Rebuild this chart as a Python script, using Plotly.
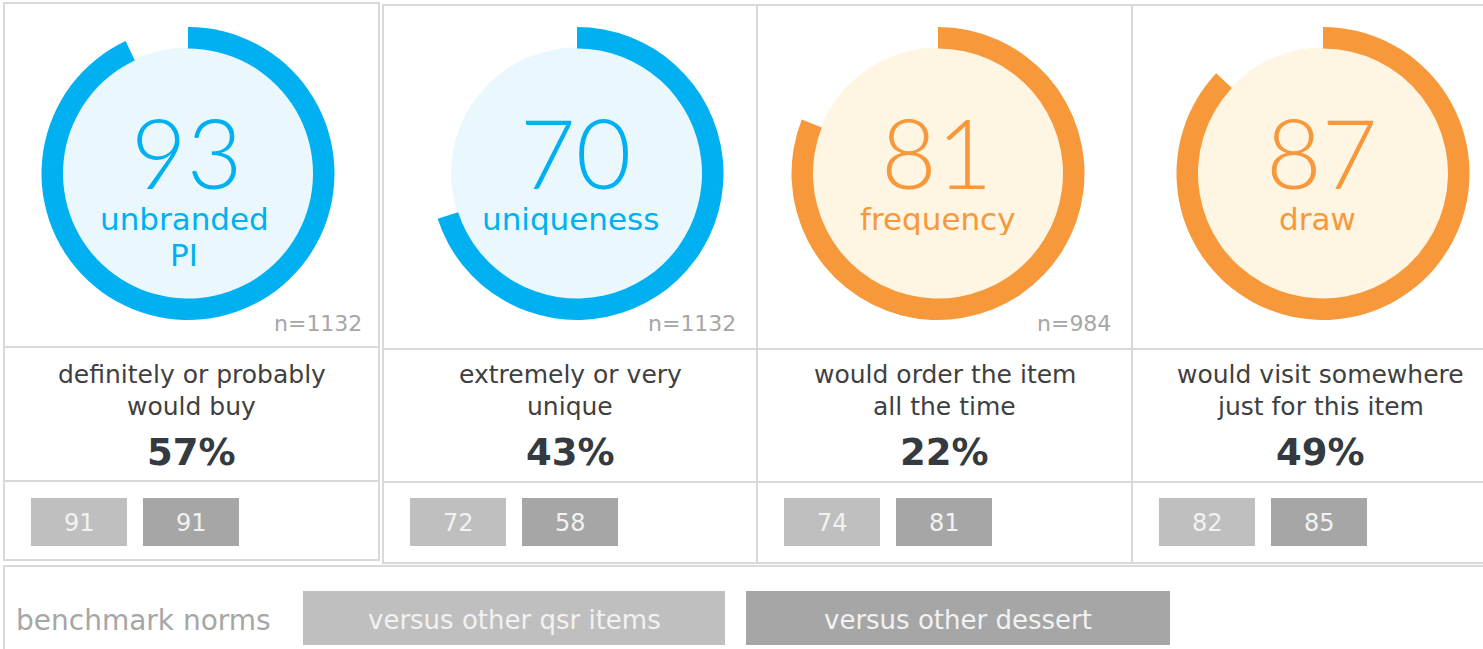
import plotly.graph_objects as go

# ---- data ----
scores = [93, 70, 81, 87]
score_labels = ["unbranded<br>PI", "uniqueness", "frequency", "draw"]
sample_sizes = ["n=1132", "n=1132", "n=984", "n=984"]
descriptions = ["definitely or probably<br>would buy", "extremely or very<br>unique",
                "would order the item<br>all the time", "would visit somewhere<br>just for this item"]
top_box = [57, 43, 22, 49]
norm_qsr = [91, 72, 74, 82]
norm_dessert = [91, 58, 81, 85]
legend_title = "benchmark norms"
legend_labels = ["versus other qsr items", "versus other dessert"]

# ---- style / layout ----
W, H = 1483, 649
FONT = "DejaVu Sans"
NUMFONT = "Lato"
ring_colors = ["#00B0F0", "#00B0F0", "#F7983A", "#F7983A"]
fill_colors = ["#EAF8FD", "#EAF8FD", "#FEF5E2", "#FEF5E2"]
panel_left = [4, 383, 757, 1132]
panel_center = [191.5, 570, 944.5, 1320]
donut_cx = [188, 577, 938, 1323]
label_cx = [184, 570, 937, 1317]
donut_cy = 173.5
R_OUT = 146.5
R_IN = 125
BORDER = "#D9D9D9"
QSR_COL = "#BFBFBF"
DES_COL = "#A6A6A6"

fig = go.Figure()
shapes = []
annotations = []


def rect(x0, y0, x1, y1, fill=None, width=2):
    d = dict(type="rect", xref="x", yref="y", x0=x0, y0=y0, x1=x1, y1=y1, layer="below")
    d["line"] = dict(color=BORDER, width=width) if width else dict(width=0)
    if fill:
        d["fillcolor"] = fill
    return d


def seg(x0, y0, x1, y1):
    return dict(type="line", xref="x", yref="y", x0=x0, x1=x1, y0=y0, y1=y1,
                line=dict(color=BORDER, width=2), layer="below")


def text(x, y, s, size, color, xanchor="center", yanchor="middle", family=FONT, weight=400, height=None):
    a = dict(x=x, y=y, text=s, showarrow=False, xanchor=xanchor, yanchor=yanchor,
             font=dict(family=family, size=size, color=color, weight=weight))
    if height:
        a["height"] = height
        a["valign"] = "middle"
    annotations.append(a)


# panel borders
shapes.append(rect(4, 3, 379, 560))
shapes.append(seg(4, 347, 379, 347))
shapes.append(seg(4, 481, 379, 481))
shapes.append(rect(383, 5, 1520, 563))
shapes.append(seg(757, 5, 757, 563))
shapes.append(seg(1132, 5, 1132, 563))
shapes.append(seg(383, 349, 1520, 349))
shapes.append(seg(383, 482, 1520, 482))
shapes.append(rect(4, 566, 1520, 680))

for i in range(4):
    cx = donut_cx[i]
    shapes.append(dict(type="circle", xref="x", yref="y", x0=cx - R_IN - 1, x1=cx + R_IN + 1,
                       y0=donut_cy - R_IN - 1, y1=donut_cy + R_IN + 1,
                       fillcolor=fill_colors[i], line=dict(width=0), layer="below"))
    fig.add_trace(go.Pie(
        values=[scores[i], 100 - scores[i]],
        marker=dict(colors=[ring_colors[i], "rgba(0,0,0,0)"], line=dict(width=0)),
        hole=R_IN / R_OUT, sort=False, direction="clockwise", rotation=0,
        textinfo="none", hoverinfo="skip", showlegend=False,
        domain=dict(x=[(cx - R_OUT) / W, (cx + R_OUT) / W],
                    y=[1 - (donut_cy + R_OUT) / H, 1 - (donut_cy - R_OUT) / H]),
    ))
    text(cx - 2, 151, str(scores[i]), 96, ring_colors[i], family=NUMFONT, weight=300, height=84)
    for k, line in enumerate(score_labels[i].split("<br>")):
        text(label_cx[i], 219 + 36 * k, line, 31, ring_colors[i], height=32)
    right = (panel_left[i + 1] if i < 3 else 1507) - 19
    text(right, 323, sample_sizes[i], 22, "#A6A6A6", xanchor="right")
    for k, line in enumerate(descriptions[i].split("<br>")):
        text(panel_center[i], 374 + 32 * k, line, 25, "#404040", height=30)
    text(panel_center[i], 452, "<b>%d%%</b>" % top_box[i], 37, "#343A40", weight=700)
    bx = panel_left[i] + 27
    for j, (vals, col) in enumerate([(norm_qsr, QSR_COL), (norm_dessert, DES_COL)]):
        x0 = bx + 112 * j
        shapes.append(rect(x0, 498, x0 + 96, 546, fill=col, width=0))
        text(x0 + 48, 523, str(vals[i]), 24, "#F2F2F2")

# legend
text(14, 620, legend_title, 28, "#A6A6A6", xanchor="left")
for j, (x0, x1, col) in enumerate([(303, 725, QSR_COL), (746, 1170, DES_COL)]):
    shapes.append(rect(x0, 591, x1, 645, fill=col, width=0))
    text((x0 + x1) / 2, 620, legend_labels[j], 26, "#F2F2F2")

fig.update_layout(
    width=W, height=H, margin=dict(l=0, r=0, t=0, b=0),
    paper_bgcolor="white", plot_bgcolor="white",
    xaxis=dict(range=[0, W], visible=False, fixedrange=True),
    yaxis=dict(range=[H, 0], visible=False, fixedrange=True),
    shapes=shapes, annotations=annotations,
)
fig.write_html("out.html", config={"displayModeBar": False},
               post_script="document.body.style.margin='0';")
